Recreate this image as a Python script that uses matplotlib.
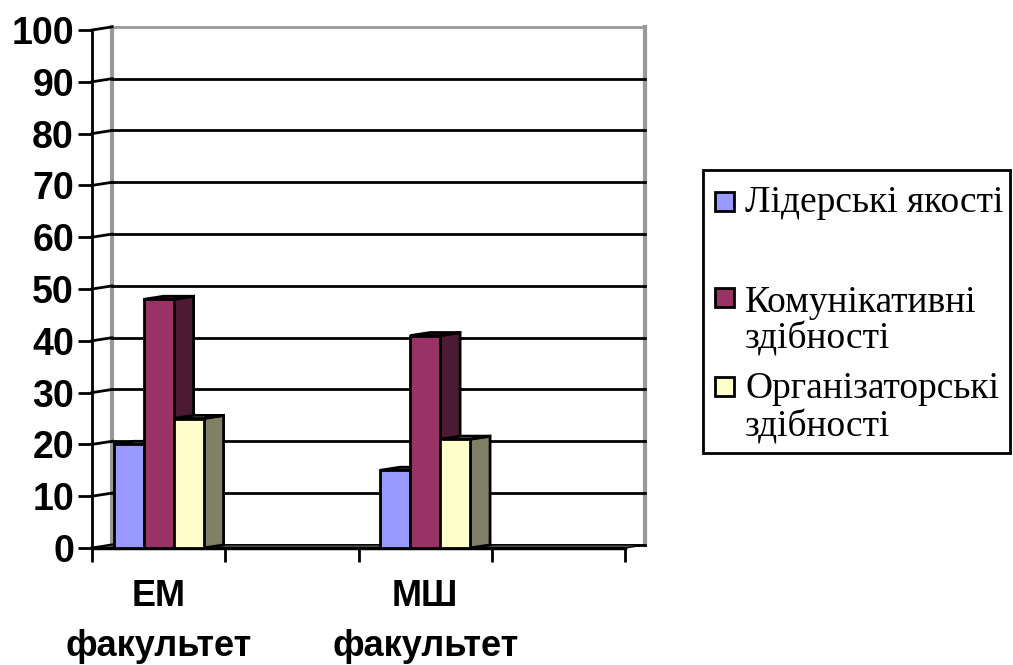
import numpy as np
import matplotlib
matplotlib.use("Agg")
import matplotlib.pyplot as plt
from matplotlib.patches import Polygon, Rectangle

# data
categories = ["ЕМ\nфакультет", "", "МШ\nфакультет", ""]
series_names = ["Лідерські якості", "Комунікативні\nздібності", "Організаторські\nздібності"]
leaders = [20, np.nan, 15, np.nan]
communic = [48, np.nan, 41, np.nan]
organiz = [25, np.nan, 21, np.nan]
y_ticks = [0, 10, 20, 30, 40, 50, 60, 70, 80, 90, 100]

front_colors = ["#9999FF", "#993366", "#FFFFCC"]
top_colors = ["#7A7ACC", "#7A2952", "#CCCCA3"]
side_colors = ["#4D4D80", "#4D1A33", "#808066"]

W, H = 1013, 665
fig = plt.figure(figsize=(W / 100, H / 100), dpi=100)
ax = fig.add_axes([92 / W, 1 - 548 / H, (625 - 92) / W, (548 - 30) / H])
ax.set_xlim(0, len(categories))
ax.set_ylim(0, 100)
for s in ax.spines.values():
    s.set_visible(False)

# depth of the pseudo-3d box in data units
dx, dy = 0.15, 0.6
gray = "#999999"
n = len(categories)

# back wall + grid
ax.plot([dx, dx], [dy, 100 + dy], color=gray, lw=3, clip_on=False, zorder=1)
ax.plot([n + dx] * 2, [dy, 100 + dy], color=gray, lw=3, clip_on=False, zorder=1)
for v in y_ticks:
    c = gray if v == 100 else "black"
    ax.plot([dx, n + dx], [v + dy, v + dy], color=c, lw=2, clip_on=False, zorder=1)
    ax.plot([0, dx], [v, v + dy], color="black", lw=2, clip_on=False, zorder=1)
# floor
ax.add_patch(Polygon([[0, 0], [n, 0], [n + dx, dy], [dx, dy]], closed=True,
                     facecolor="#666666", edgecolor="black", lw=1, clip_on=False, zorder=1))
ax.plot([0, n], [0, 0], color="black", lw=2.5, clip_on=False, zorder=2)
ax.plot([0, 0], [0, 100], color="black", lw=2, clip_on=False, zorder=2)

# bars
bw = 0.225
x = np.arange(n) + 0.5
z = 3
for i, vals in enumerate([leaders, communic, organiz]):
    pos = x + (i - 1) * bw
    for xc, v in zip(pos, vals):
        if np.isnan(v):
            continue
        x0, x1 = xc - bw / 2, xc + bw / 2
        ax.add_patch(Polygon([[x1, 0], [x1 + dx, dy], [x1 + dx, v + dy], [x1, v]], closed=True,
                             facecolor=side_colors[i], edgecolor="black", lw=2, zorder=z, clip_on=False))
        ax.add_patch(Polygon([[x0, v], [x1, v], [x1 + dx, v + dy], [x0 + dx, v + dy]], closed=True,
                             facecolor=top_colors[i], edgecolor="black", lw=2, zorder=z, clip_on=False))
        z += 1
    ax.bar(pos, vals, width=bw, color=front_colors[i], edgecolor="black", lw=2, zorder=z)
    z += 1

# ticks
ax.set_yticks(y_ticks)
ax.set_yticklabels([str(v) for v in y_ticks], fontfamily="Liberation Sans", fontweight="bold", fontsize=27)
ax.tick_params(axis="y", length=10, width=2, pad=3)
ax.set_xticks(np.arange(n + 1))
ax.set_xticklabels([])
ax.tick_params(axis="x", which="major", length=10, width=2)
ax.set_xticks(x, minor=True)
ax.set_xticklabels(categories, minor=True, fontfamily="Liberation Sans", fontweight="bold",
                   fontsize=26, linespacing=1.58)
ax.tick_params(axis="x", which="minor", length=0, pad=22)

# legend box
fig.patches.append(Rectangle((703 / W, 1 - 453 / H), (1010 - 703) / W, (453 - 170) / H,
                             transform=fig.transFigure, facecolor="white", edgecolor="black", lw=2))
baselines = [[212], [312, 348], [398, 436]]
marker_mid = [201, 297, 387]
for i, name in enumerate(series_names):
    fig.patches.append(Rectangle((715 / W, 1 - (marker_mid[i] + 9.5) / H), 19 / W, 19 / H,
                                 transform=fig.transFigure, facecolor=front_colors[i],
                                 edgecolor="black", lw=2))
    for line, b in zip(name.split("\n"), baselines[i]):
        fig.text(745 / W, 1 - b / H, line, fontfamily="Liberation Serif", fontsize=27,
                 va="baseline", ha="left")

fig.savefig("out.png", dpi=100)
